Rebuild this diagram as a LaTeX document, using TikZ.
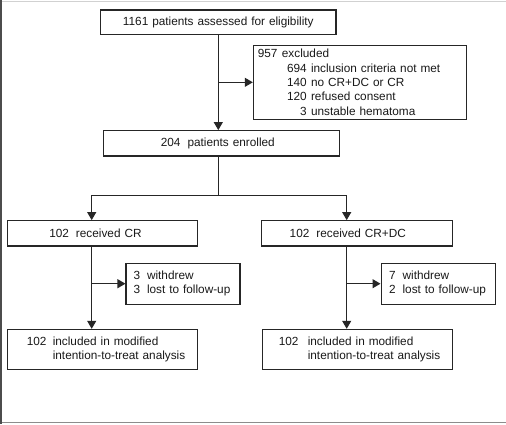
\documentclass[tikz,border=0pt]{standalone}
\usepackage{fontspec}
\setmainfont{Liberation Sans}
\usetikzlibrary{arrows.meta}

\begin{document}
\begin{tikzpicture}[x=1pt, y=-1pt,
	box/.style={draw=black!85, line width=1.1pt, inner sep=0pt, align=left, text=black!90, font=\fontsize{11.8}{14.4}\selectfont},
	arr/.style={draw=black!85, line width=1.1pt, -{Triangle[length=8pt,width=9pt]}},
	link/.style={draw=black!85, line width=1.1pt}]
	\useasboundingbox (0,0) rectangle (506,424);
	\fill[white] (0,0) rectangle (506,424);

	% frame
	\draw[black!18, line width=1pt] (0,1.3) -- (506,1.3);
	\draw[black!45, line width=1.2pt] (0,422.8) -- (506,422.8);
	\draw[black!70, line width=1.6pt] (0.8,0) -- (0.8,424);

	% boxes
	\node[box, align=center, text width=235.3pt, minimum height=24.7pt] (assess) at (218.3,22.3) {1161 patients assessed for eligibility};
	\node[box, text width=212.7pt, minimum height=74pt] (excl) at (359.7,82.3) {%
		\hspace*{4.4pt}957\hspace{4.5pt}excluded\\
		\hspace*{33.4pt}\makebox[20pt][r]{694}\hspace{4.3pt}inclusion criteria not met\\
		\hspace*{33.4pt}\makebox[20pt][r]{140}\hspace{4.3pt}no CR+DC or CR\\
		\hspace*{33.4pt}\makebox[20pt][r]{120}\hspace{4.3pt}refused consent\\
		\hspace*{33.4pt}\makebox[20pt][r]{3}\hspace{4.3pt}unstable hematoma};
	\node[box, text width=235.7pt, minimum height=25.3pt] (enrol) at (221.2,143.3) {\hspace*{57.5pt}204\hspace{7pt}patients enrolled};

	\node[box, text width=190pt, minimum height=25.3pt] (crL) at (102.3,233.3) {\hspace*{42pt}102\hspace{7pt}received CR};
	\node[box, text width=191pt, minimum height=25.3pt] (crR) at (357.2,233.3) {\hspace*{28pt}102\hspace{7pt}received CR+DC};

	\node[box, text width=114pt, minimum height=40.7pt] (wdL) at (183,283.7) {%
		\hspace*{7.5pt}3\hspace{7pt}withdrew\\
		\hspace*{7.5pt}3\hspace{7pt}lost to follow-up};
	\node[box, text width=114.3pt, minimum height=40.7pt] (wdR) at (438.2,283.7) {%
		\hspace*{8pt}7\hspace{7pt}withdrew\\
		\hspace*{8pt}2\hspace{7pt}lost to follow-up};

	\node[box, text width=190pt, minimum height=39.7pt] (itL) at (102.3,349.2) {%
		\hspace*{19.5pt}\makebox[26pt][l]{102}included in modified\\
		\hspace*{45.5pt}intention-to-treat analysis};
	\node[box, text width=190.4pt, minimum height=39.7pt] (itR) at (357.5,349.2) {%
		\hspace*{16.5pt}\makebox[29pt][l]{102}included in modified\\
		\hspace*{45.5pt}intention-to-treat analysis};

	% branch points
	\coordinate (split) at (218.3,195.7);
	\coordinate (brL) at (91.7,195.7);
	\coordinate (brR) at (346.7,195.7);

	% arrows
	\draw[arr] (assess.south) -- (assess.south |- enrol.north);
	\draw[arr] (assess.south |- excl.west) -- (excl.west);
	\draw[link] (split |- enrol.south) -- (split);
	\draw[arr] (split) -- (brL) -- (brL |- crL.north);
	\draw[arr] (split) -- (brR) -- (brR |- crR.north);

	\draw[arr] (brL |- crL.south) -- (brL |- itL.north); % CR arm
	\draw[arr] (brL |- wdL.west) -- (wdL.west);
	\draw[arr] (brR |- crR.south) -- (brR |- itR.north); % CR+DC arm
	\draw[arr] (brR |- wdR.west) -- (wdR.west);
\end{tikzpicture}
\end{document}
